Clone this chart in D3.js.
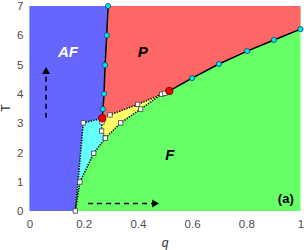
<!DOCTYPE html>
<html>
<head>
<meta charset="utf-8">
<script src="https://cdn.jsdelivr.net/npm/d3@7"></script>
<style>
  body { margin: 0; background: #fff; }
  text { font-family: "Liberation Sans", Arial, sans-serif; }
</style>
</head>
<body>
<div id="chart"></div>
<script>
// Phase boundaries (q, T)
const afpQ = [0.2686, 0.271, 0.275, 0.279, 0.285, 0.290];
const afpT = [3.165, 3.48, 4.0, 4.98, 6.0, 7.0];

const pfQ = [0.516, 0.600, 0.699, 0.803, 0.902, 1.0];
const pfT = [4.10, 4.54, 5.02, 5.46, 5.84, 6.21];

// dotted boundaries, square markers
const pyQ = [0.2686, 0.297, 0.399, 0.488, 0.500, 0.516];
const pyT = [3.165, 3.28, 3.64, 3.99, 4.02, 4.10];

const yfQ = [0.488, 0.410, 0.3365, 0.280];
const yfT = [3.99, 3.48, 3.01, 2.49];

const ycQ = [0.280, 0.266, 0.2675, 0.2686];
const ycT = [2.49, 2.73, 3.04, 3.165];

const cfQ = [0.280, 0.237, 0.186, 0.169];
const cfT = [2.49, 1.97, 0.99, 0.0];

const acQ = [0.169, 0.1985, 0.2686];
const acT = [0.0, 3.01, 3.165];

const xTicks = [0, 0.2, 0.4, 0.6, 0.8, 1];
const yTicks = [0, 1, 2, 3, 4, 5, 6, 7];

const zip = (qs, ts) => qs.map((q, i) => [q, ts[i]]);
const afp = zip(afpQ, afpT), pf = zip(pfQ, pfT), py = zip(pyQ, pyT);
const yf = zip(yfQ, yfT), yc = zip(ycQ, ycT), cf = zip(cfQ, cfT), ac = zip(acQ, acT);

const margin = { top: 6, left: 29.5 };
const width = 271, height = 205;

const svg = d3.select("#chart").append("svg")
    .attr("width", 304).attr("height", 250);
const g = svg.append("g").attr("transform", `translate(${margin.left},${margin.top})`);

const x = d3.scaleLinear().domain([0, 1]).range([0, width]);
const y = d3.scaleLinear().domain([0, 7]).range([height, 0]);

const poly = pts => "M" + pts.map(p => x(p[0]) + "," + y(p[1])).join("L") + "Z";
const line = d3.line().x(d => x(d[0])).y(d => y(d[1]));

// regions: F is the background
g.append("rect").attr("width", width).attr("height", height).attr("fill", "#66ff66");

const afPts = [[0, 0], [0, 7]].concat(afp.slice().reverse(), [[0.1985, 3.01], [0.169, 0]]);
g.append("path").attr("d", poly(afPts)).attr("fill", "#6666ff");

const pPts = [[0.290, 7], [1, 7]].concat(pf.slice().reverse(), py.slice().reverse().slice(1), afp.slice(1));
g.append("path").attr("d", poly(pPts)).attr("fill", "#ff6666");

const cPts = ac.concat(yc.slice().reverse().slice(1), cf.slice(1));
g.append("path").attr("d", poly(cPts)).attr("fill", "#66ffff");

const yPts = py.slice(0, 4).concat(yf.slice(1), yc.slice(1));
g.append("path").attr("d", poly(yPts)).attr("fill", "#ffff66");

// dotted boundaries
[py, yf, yc, cf, ac].forEach(pts => {
    g.append("path").attr("d", line(pts)).attr("fill", "none")
        .attr("stroke", "#000").attr("stroke-width", 1.6).attr("stroke-dasharray", "1.3,1.3");
});

// solid boundaries
[afp, pf].forEach(pts => {
    g.append("path").attr("d", line(pts)).attr("fill", "none")
        .attr("stroke", "#000").attr("stroke-width", 1.5);
});

// square markers
const squares = py.slice(1, 5).concat(yf.slice(1), yc.slice(1, 3), cf, [ac[1]]);
g.selectAll(".sq").data(squares).enter().append("rect")
    .attr("x", d => x(d[0]) - 2.2).attr("y", d => y(d[1]) - 2.2)
    .attr("width", 4.4).attr("height", 4.4)
    .attr("fill", "#fff").attr("stroke", "#444").attr("stroke-width", 0.8);

// circle markers
const circles = afp.slice(1).concat(pf.slice(1));
g.selectAll(".ci").data(circles).enter().append("circle")
    .attr("cx", d => x(d[0])).attr("cy", d => y(d[1])).attr("r", 2.6)
    .attr("fill", "#00e5ee").attr("stroke", "#135").attr("stroke-width", 0.7);

g.selectAll(".rd").data([afp[0], pf[0]]).enter().append("circle")
    .attr("cx", d => x(d[0])).attr("cy", d => y(d[1])).attr("r", 3.8)
    .attr("fill", "#ee0000").attr("stroke", "#400").attr("stroke-width", 0.7);

// arrows
const arrow = (x1, y1, x2, y2) => {
    const ang = Math.atan2(y2 - y1, x2 - x1);
    const hl = 7, hw = 4;
    const bx = x2 - hl * Math.cos(ang), by = y2 - hl * Math.sin(ang);
    g.append("line").attr("x1", x1).attr("y1", y1).attr("x2", bx).attr("y2", by)
        .attr("stroke", "#000").attr("stroke-width", 1.5).attr("stroke-dasharray", "5,4");
    const px = -Math.sin(ang) * hw, pyy = Math.cos(ang) * hw;
    g.append("path").attr("d", `M${x2},${y2}L${bx + px},${by + pyy}L${bx - px},${by - pyy}Z`)
        .attr("fill", "#000");
};
arrow(x(0.061), y(3.18), x(0.061), y(4.92));
arrow(x(0.216), y(0.26), x(0.478), y(0.26));

// phase labels
const lab = (t, q, T, col, size) => g.append("text").attr("x", x(q)).attr("y", y(T))
    .attr("text-anchor", "middle").attr("fill", col)
    .attr("font-size", size).attr("font-weight", "bold").attr("font-style", "italic").text(t);
lab("AF", 0.142, 5.25, "#fff", 15);
lab("P", 0.418, 5.25, "#000", 15);
lab("F", 0.518, 1.75, "#000", 15);

g.append("text").attr("x", x(0.975)).attr("y", y(0.27)).attr("text-anchor", "end")
    .attr("font-size", 13).attr("font-weight", "bold").attr("fill", "#000").text("(a)");

// axes
const xa = g.append("g").attr("transform", `translate(0,${height})`)
    .call(d3.axisBottom(x).tickValues(xTicks).tickSize(0).tickPadding(9).tickFormat(d3.format("~g")));
const ya = g.append("g")
    .call(d3.axisLeft(y).tickValues(yTicks).tickSize(0).tickPadding(6).tickFormat(d3.format("d")));
[xa, ya].forEach(a => {
    a.select(".domain").remove();
    a.selectAll("text").attr("font-size", 11.5).attr("fill", "#4d4d4d")
        .attr("font-family", "Liberation Sans, Arial, sans-serif");
});

svg.append("text").attr("transform", "translate(10,108) rotate(-90)")
    .attr("text-anchor", "middle").attr("font-size", 12).attr("fill", "#333").text("T");
svg.append("text").attr("x", 165).attr("y", 247)
    .attr("text-anchor", "middle").attr("font-size", 12).attr("font-style", "italic")
    .attr("fill", "#333").text("q");
</script>
</body>
</html>
